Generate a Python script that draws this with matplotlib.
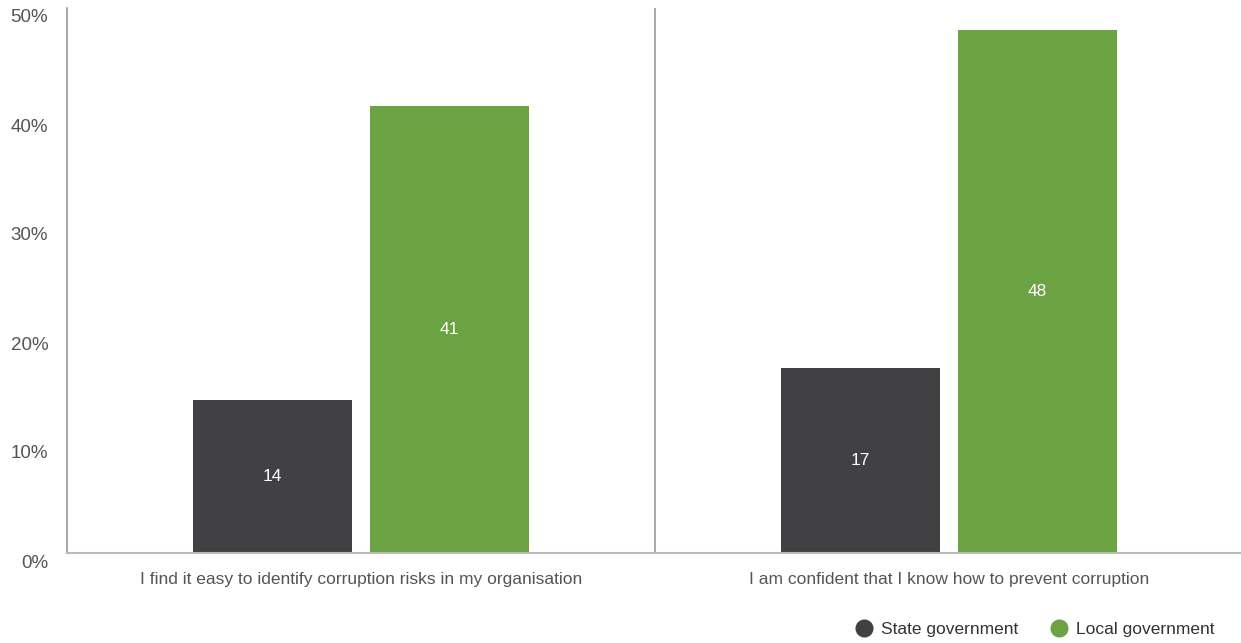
import numpy as np
import matplotlib.pyplot as plt
from matplotlib.lines import Line2D
from matplotlib.transforms import ScaledTranslation

# survey statements and share of respondents agreeing (%)
categories = [
    "I find it easy to identify corruption risks in my organisation",
    "I am confident that I know how to prevent corruption",
]
state_gov = [14, 17]
local_gov = [41, 48]
series_names = ["State government", "Local government"]
y_ticks = [0, 10, 20, 30, 40, 50]

DARK = "#414143"
GREEN = "#6ca342"
TEXT = "#555555"

plt.rcParams["font.family"] = ["Liberation Sans", "DejaVu Sans"]

fig = plt.figure(figsize=(12.41, 6.43), dpi=100)
ax = fig.add_axes([67 / 1241, 1 - 553 / 643, 1176 / 1241, 545 / 643])

x = np.arange(len(categories))
width = 0.27
off = 0.1505
b1 = ax.bar(x - off, state_gov, width, color=DARK)
b2 = ax.bar(x + off, local_gov, width, color=GREEN)

for bars, vals in ((b1, state_gov), (b2, local_gov)):
    for rect, v in zip(bars, vals):
        ax.text(rect.get_x() + rect.get_width() / 2, v / 2, str(v),
                ha="center", va="center", color="white", fontsize=12.5)

ax.set_xlim(-0.5, 1.5)
ax.set_ylim(0, 50)
ax.axvline(0.5, color="#999999", lw=1.2)

ax.set_yticks(y_ticks)
ax.set_yticklabels([f"{t}%" for t in y_ticks])
ax.tick_params(axis="y", length=0, pad=13.5, labelsize=13.5, labelcolor=TEXT)
shift = ScaledTranslation(0, -8 / 100, fig.dpi_scale_trans)
for lab in ax.get_yticklabels():
    lab.set_transform(lab.get_transform() + shift)

ax.set_xticks(x)
ax.set_xticklabels(categories)
ax.tick_params(axis="x", length=0, pad=13.5, labelsize=12.5, labelcolor=TEXT)

for side in ("top", "right"):
    ax.spines[side].set_visible(False)
ax.spines["left"].set_color("#999999")
ax.spines["left"].set_linewidth(1.2)
ax.spines["bottom"].set_color("#bbbbbb")
ax.spines["bottom"].set_linewidth(1.5)

handles = [
    Line2D([], [], marker="o", ls="", markersize=12, color=DARK),
    Line2D([], [], marker="o", ls="", markersize=12, color=GREEN),
]
fig.legend(handles, series_names, loc="center right", bbox_to_anchor=(1230 / 1241, 1 - 629 / 643),
           ncol=2, frameon=False, fontsize=12.5, handletextpad=0.4, columnspacing=1.7,
           handlelength=1.2, labelcolor="#333333")

fig.savefig("out.png", dpi=100, facecolor="white")
